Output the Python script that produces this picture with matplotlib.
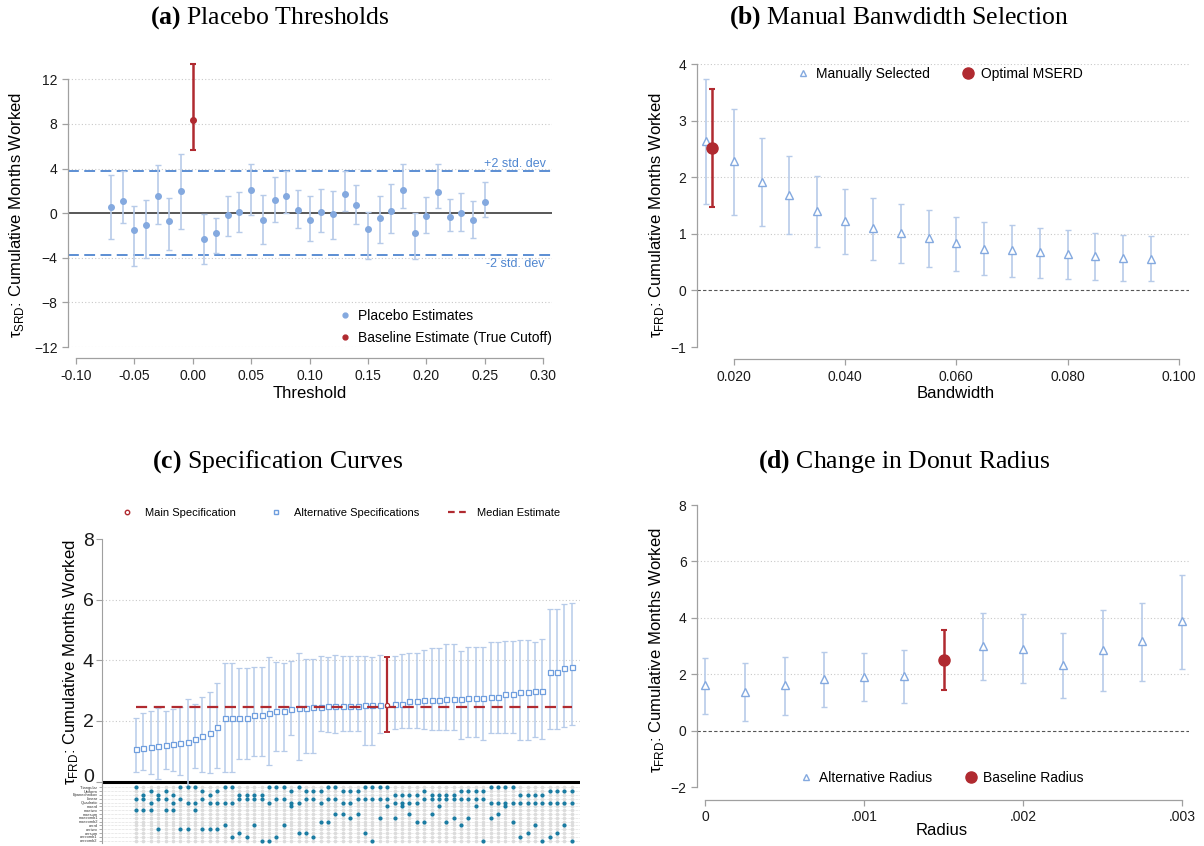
import matplotlib
matplotlib.use('Agg')
import matplotlib.pyplot as plt
from matplotlib import font_manager as fm
from matplotlib.lines import Line2D


def have_font(name):
    try:
        fm.findfont(fm.FontProperties(family=name), fallback_to_default=False)
        return True
    except ValueError:
        return False


SANS = 'Liberation Sans Narrow' if have_font('Liberation Sans Narrow') else 'Liberation Sans'
SERIF = 'Liberation Serif'

plt.rcParams['font.family'] = [SANS, 'DejaVu Sans']
plt.rcParams['mathtext.fontset'] = 'custom'
plt.rcParams['mathtext.rm'] = SANS
plt.rcParams['mathtext.sf'] = SANS
plt.rcParams['mathtext.bf'] = SERIF + ':bold'

# ---------------- data ----------------
# (a) placebo thresholds
placebo_x = [-0.07, -0.06, -0.05, -0.04, -0.03, -0.02, -0.01,
             0.01, 0.02, 0.03, 0.04, 0.05, 0.06, 0.07, 0.08, 0.09, 0.10,
             0.11, 0.12, 0.13, 0.14, 0.15, 0.16, 0.17, 0.18, 0.19, 0.20,
             0.21, 0.22, 0.23, 0.24, 0.25]
placebo_est = [0.51, 1.05, -1.52, -1.05, 1.52, -0.72, 1.97,
               -2.33, -1.82, -0.21, 0.06, 2.09, -0.57, 1.20, 1.52, 0.24, -0.57,
               0.06, -0.09, 1.70, 0.75, -1.43, -0.42, 0.18, 2.06, -1.79, -0.30,
               1.91, -0.36, -0.03, -0.60, 0.96]
placebo_hi = [3.41, 3.80, 0.66, 1.14, 4.36, 1.32, 5.32,
              -0.09, -0.45, 1.58, 1.88, 4.45, 1.67, 3.23, 3.80, 2.12, 1.55,
              2.21, 2.03, 3.74, 2.51, 0.12, 1.52, 2.57, 4.42, -0.03, 1.41,
              4.39, 1.26, 1.82, 1.05, 2.75]
placebo_lo = [-2.33, -0.84, -4.75, -4.01, -0.93, -3.32, -1.41,
              -4.60, -3.53, -2.09, -1.73, -0.21, -2.75, -0.81, 0.03, -1.32, -2.54,
              -1.73, -2.36, 0.18, -0.93, -4.10, -2.69, -1.79, 0.48, -4.07, -1.76,
              0.42, -1.64, -1.61, -2.27, -0.33]
base_x, base_est, base_lo, base_hi = 0.00, 8.34, 5.65, 13.36
std_band = 3.76

# (b) manual bandwidth selection
bw_x = [0.015, 0.020, 0.025, 0.030, 0.035, 0.040, 0.045, 0.050, 0.055,
        0.060, 0.065, 0.070, 0.075, 0.080, 0.085, 0.090, 0.095]
bw_est = [2.64, 2.28, 1.91, 1.68, 1.40, 1.23, 1.10, 1.01, 0.93,
          0.83, 0.74, 0.71, 0.67, 0.64, 0.61, 0.58, 0.56]
bw_hi = [3.73, 3.20, 2.69, 2.38, 2.02, 1.80, 1.64, 1.53, 1.42,
         1.30, 1.20, 1.16, 1.10, 1.06, 1.02, 0.98, 0.96]
bw_lo = [1.52, 1.34, 1.13, 0.99, 0.76, 0.64, 0.54, 0.48, 0.42,
         0.34, 0.27, 0.24, 0.22, 0.20, 0.19, 0.17, 0.16]
opt_x, opt_est, opt_lo, opt_hi = 0.0161, 2.51, 1.47, 3.56

# (c) specification curve (sorted specs, main spec is number 35)
spec_est = [1.07, 1.12, 1.15, 1.16, 1.20, 1.24, 1.27, 1.29, 1.41, 1.51,
            1.59, 1.81, 2.08, 2.08, 2.11, 2.11, 2.18, 2.18, 2.26, 2.34,
            2.34, 2.38, 2.43, 2.44, 2.45, 2.47, 2.48, 2.48, 2.48, 2.48,
            2.48, 2.52, 2.52, 2.53, 2.53, 2.55, 2.57, 2.65, 2.65, 2.68,
            2.69, 2.69, 2.73, 2.73, 2.73, 2.77, 2.77, 2.77, 2.79, 2.79,
            2.89, 2.89, 2.96, 2.96, 2.98, 2.99, 3.62, 3.62, 3.74, 3.79]
spec_hi = [2.11, 2.25, 2.32, 2.42, 2.33, 2.40, 2.46, 2.71, 2.55, 2.80,
           2.97, 3.25, 3.92, 3.92, 3.75, 3.75, 3.78, 3.78, 4.11, 3.93,
           3.91, 3.97, 4.25, 4.03, 4.03, 4.14, 4.10, 4.16, 4.15, 4.15,
           4.15, 4.14, 4.12, 4.19, 4.12, 4.14, 4.21, 4.25, 4.23, 4.34,
           4.41, 4.41, 4.54, 4.54, 4.30, 4.43, 4.43, 4.43, 4.62, 4.62,
           4.65, 4.65, 4.68, 4.68, 4.62, 4.71, 5.70, 5.70, 5.86, 5.90]
spec_lo = [0.33, 0.37, 0.24, 0.07, 0.43, 0.35, 0.23, -0.14, 0.44, 0.33,
           0.27, 0.44, 0.31, 0.31, 0.76, 0.76, 0.85, 0.85, 0.54, 1.02,
           1.02, 1.52, 0.71, 0.95, 0.95, 1.68, 1.63, 1.60, 1.68, 1.68,
           1.68, 1.20, 1.20, 1.60, 1.63, 1.73, 1.76, 1.76, 1.76, 1.73,
           1.70, 1.70, 1.70, 1.70, 1.42, 1.46, 1.46, 1.37, 1.60, 1.60,
           1.59, 1.59, 1.36, 1.36, 1.48, 1.42, 1.74, 1.74, 1.81, 1.87]
main_spec = 35
median_est = 2.47

spec_rows = ['Triangular', 'Uniform', 'Epanechnikov', 'Linear', 'Quadratic',
             'mserd', 'msetwo', 'msesum', 'msecomb1', 'msecomb2',
             'cerrd', 'certwo', 'cersum', 'cercomb1', 'cercomb2']
# kernel: 0 Triangular, 1 Uniform, 2 Epanechnikov
spec_kernel = [0, 2, 1, 2, 1, 2, 0, 0, 0, 1, 2, 1, 0, 0, 2, 2, 2, 2, 0, 0,
               0, 1, 0, 1, 1, 1, 0, 0, 1, 1, 1, 0, 0, 0, 0, 2, 2, 2, 2, 1,
               2, 2, 2, 2, 1, 1, 1, 1, 0, 0, 0, 0, 2, 2, 2, 2, 1, 1, 1, 1]
# polynomial: 0 Linear, 1 Quadratic
spec_poly = [0, 0, 1, 0, 0, 1, 0, 1, 1, 0, 1, 1, 1, 1, 0, 0, 0, 0, 1, 0,
             0, 1, 1, 0, 0, 1, 0, 0, 1, 1, 0, 0, 0, 0, 0, 1, 1, 1, 1, 0,
             0, 0, 0, 0, 0, 0, 0, 0, 1, 1, 1, 1, 1, 1, 1, 1, 1, 1, 1, 1]
# bandwidth selector: index into rows 6..15
spec_bw = [1, 1, 1, 6, 1, 1, 6, 6, 1, 6, 6, 6, 5, 8, 7, 8, 5, 9, 9, 8,
           5, 0, 7, 7, 8, 4, 4, 2, 2, 3, 2, 7, 9, 3, 0, 3, 0, 2, 4, 4,
           2, 0, 4, 3, 5, 3, 0, 9, 3, 2, 0, 4, 8, 7, 5, 9, 8, 7, 5, 9]

# (d) donut radius
rad_x = [0.0, 0.00025, 0.0005, 0.00075, 0.001, 0.00125,
         0.00175, 0.002, 0.00225, 0.0025, 0.00275, 0.003]
rad_est = [1.60, 1.37, 1.61, 1.83, 1.91, 1.94, 3.01, 2.91, 2.32, 2.85, 3.17, 3.87]
rad_hi = [2.58, 2.40, 2.61, 2.79, 2.75, 2.86, 4.18, 4.14, 3.45, 4.29, 4.54, 5.51]
rad_lo = [0.58, 0.33, 0.56, 0.85, 1.04, 0.99, 1.81, 1.68, 1.16, 1.40, 1.77, 2.19]
brad_x, brad_est, brad_lo, brad_hi = 0.0015, 2.51, 1.45, 3.56

# ---------------- style ----------------
CI_BLUE = '#b7cbe9'
PT_BLUE = '#84a9df'
RED = '#b02a30'
SPINE = '#a0a0a0'
GRID = '#c9c9c9'
TEAL = '#1b7ca2'

W, H = 1204, 846
fig = plt.figure(figsize=(W / 100, H / 100), dpi=100)


def fx(px):
    return px / W


def fy(py):
    return 1 - py / H


def add_axes(left, top, right, bottom):
    return fig.add_axes([fx(left), fy(bottom), fx(right - left), (bottom - top) / H])


def style(ax, xb, yb, out):
    for s in ['top', 'right']:
        ax.spines[s].set_visible(False)
    for s in ['left', 'bottom']:
        ax.spines[s].set_color(SPINE)
        ax.spines[s].set_linewidth(0.9)
    ax.spines['left'].set_bounds(*yb)
    ax.spines['bottom'].set_bounds(*xb)
    ax.spines['bottom'].set_position(('outward', out))
    ax.tick_params(colors=SPINE, labelcolor='#1a1a1a', length=4, width=0.9, labelsize=10)
    ax.set_facecolor('none')


def grid(ax, vals, x0, x1):
    ax.hlines(vals, x0, x1, colors=GRID, linestyles=(0, (1, 2)), linewidth=0.8, zorder=0)


def title(x, y, letter, text):
    fig.text(fx(x), fy(y), r'$\mathbf{(' + letter + r')}$ ' + text,
             family=SERIF, fontsize=18.5, ha='center', va='center')


def ylabel(x, y, sub):
    fig.text(fx(x), fy(y), 'τ$_{\\mathsf{' + sub + '}}$: Cumulative Months Worked',
             rotation=90, fontsize=12, ha='center', va='center')


def xlabel(x, y, text):
    fig.text(fx(x), fy(y), text, fontsize=12, ha='center', va='center')


ebk = dict(fmt='none', ecolor=CI_BLUE, elinewidth=1.2, capsize=2.5, capthick=1.0)
ebr = dict(fmt='none', ecolor=RED, elinewidth=1.8, capsize=2.5, capthick=1.5)

# ---------------- (a) ----------------
ax = add_axes(68, 57, 552, 347)
xl = (-0.1069, 0.3077)
ax.set_xlim(*xl)
ax.set_ylim(-12, 14)
style(ax, (-0.10, 0.30), (-12, 12), 8)
grid(ax, [-12, -8, -4, 4, 8, 12], *xl)
ax.axhline(0, color='#4a4a4a', lw=1.3, zorder=1)
ax.axhline(std_band, color='#4f86d0', ls=(0, (6, 3)), lw=1.3, zorder=1)
ax.axhline(-std_band, color='#4f86d0', ls=(0, (6, 3)), lw=1.3, zorder=1)
ax.text(0.276, std_band + 0.15, '+2 std. dev', color='#4f86d0', fontsize=9,
        ha='center', va='bottom')
ax.text(0.276, -std_band - 0.25, '-2 std. dev', color='#4f86d0', fontsize=9,
        ha='center', va='top')
ax.errorbar(placebo_x, placebo_est,
            yerr=[[e - l for e, l in zip(placebo_est, placebo_lo)],
                  [h - e for e, h in zip(placebo_est, placebo_hi)]], **ebk)
ax.plot(placebo_x, placebo_est, 'o', ms=4, color=PT_BLUE, zorder=3)
ax.errorbar([base_x], [base_est], yerr=[[base_est - base_lo], [base_hi - base_est]], **ebr)
ax.plot([base_x], [base_est], 'o', ms=4, color=RED, zorder=3)
ax.set_xticks([-0.10, -0.05, 0.00, 0.05, 0.10, 0.15, 0.20, 0.25, 0.30])
ax.set_xticklabels(['-0.10', '-0.05', '0.00', '0.05', '0.10', '0.15', '0.20', '0.25', '0.30'])
ax.set_yticks([-12, -8, -4, 0, 4, 8, 12])
h1 = Line2D([], [], marker='o', ls='none', ms=3.5, color=PT_BLUE)
h2 = Line2D([], [], marker='o', ls='none', ms=3.5, color=RED)
ax.legend([h1, h2], ['Placebo Estimates', 'Baseline Estimate (True Cutoff)'],
          loc='center left', bbox_to_anchor=(fx(334), fy(327)), bbox_transform=fig.transFigure,
          frameon=False, fontsize=10, handlelength=0.6, handletextpad=0.6, labelspacing=0.55,
          borderpad=0)
title(270, 18, 'a', 'Placebo Thresholds')
ylabel(17, 215, 'SRD')
xlabel(310, 393, 'Threshold')

# ---------------- (b) ----------------
ax = add_axes(697, 64, 1189, 347)
xl = (0.0134, 0.1018)
ax.set_xlim(*xl)
ax.set_ylim(-1, 4)
style(ax, (0.02, 0.10), (-1, 4), 9)
grid(ax, [1, 2, 3, 4], *xl)
ax.axhline(0, color='#555555', ls=(0, (3, 2)), lw=0.8, zorder=1)
ax.errorbar(bw_x, bw_est,
            yerr=[[e - l for e, l in zip(bw_est, bw_lo)],
                  [h - e for e, h in zip(bw_est, bw_hi)]], **ebk)
ax.plot(bw_x, bw_est, '^', ms=6, mfc='white', mec=PT_BLUE, mew=1.0, zorder=3)
ax.errorbar([opt_x], [opt_est], yerr=[[opt_est - opt_lo], [opt_hi - opt_est]], **ebr)
ax.plot([opt_x], [opt_est], 'o', ms=8, color=RED, zorder=4)
ax.set_xticks([0.02, 0.04, 0.06, 0.08, 0.10])
ax.set_xticklabels(['0.020', '0.040', '0.060', '0.080', '0.100'])
ax.set_yticks([-1, 0, 1, 2, 3, 4])
h1 = Line2D([], [], marker='^', ls='none', ms=5, mfc='white', mec=PT_BLUE)
h2 = Line2D([], [], marker='o', ls='none', ms=8, color=RED)
ax.legend([h1, h2], ['Manually Selected', 'Optimal MSERD'], ncol=2,
          loc='center', bbox_to_anchor=(fx(940), fy(74)), bbox_transform=fig.transFigure,
          frameon=False, fontsize=10, handlelength=0.8, handletextpad=0.5, columnspacing=2.4)
title(899, 18, 'b', 'Manual Banwdidth Selection')
ylabel(656, 215, 'FRD')
xlabel(956, 393, 'Bandwidth')

# ---------------- (c) ----------------
n_spec = len(spec_est)
spec_i = list(range(1, n_spec + 1))
xl = (-3.6, 61.1)
ax = add_axes(102, 533, 580, 787)
ax.set_xlim(*xl)
ax.set_ylim(-0.18, 8.2)
for s in ['top', 'right', 'bottom']:
    ax.spines[s].set_visible(False)
ax.spines['left'].set_color(SPINE)
ax.spines['left'].set_bounds(-0.18, 8)
ax.tick_params(axis='y', colors=SPINE, labelcolor='#1a1a1a', length=4, labelsize=14, pad=2)
ax.set_xticks([])
ax.set_facecolor('none')
ax.set_yticks([0, 2, 4, 6, 8])
ax.get_yticklabels()[0].set_va('baseline')
grid(ax, [2, 4, 6], *xl)
ax.axhline(0, color='black', lw=2.2, zorder=2)
alt = [i for i in spec_i if i != main_spec]
ax.errorbar(alt, [spec_est[i - 1] for i in alt],
            yerr=[[spec_est[i - 1] - spec_lo[i - 1] for i in alt],
                  [spec_hi[i - 1] - spec_est[i - 1] for i in alt]],
            fmt='none', ecolor=CI_BLUE, elinewidth=1.1, capsize=2.2, capthick=0.9)
ax.plot(alt, [spec_est[i - 1] for i in alt], 's', ms=3.6, mfc='white', mec='#6f9ede',
        mew=0.9, zorder=3)
m = main_spec - 1
ax.errorbar([main_spec], [spec_est[m]], yerr=[[spec_est[m] - spec_lo[m]], [spec_hi[m] - spec_est[m]]],
            fmt='none', ecolor=RED, elinewidth=1.6, capsize=2.5, capthick=1.4, zorder=4)
ax.plot([main_spec], [spec_est[m]], 'o', ms=3, mfc='white', mec=RED, mew=0.9, zorder=5)
ax.plot([1, n_spec], [median_est, median_est], color=RED, ls=(0, (5, 3)), lw=1.6, zorder=4)
h1 = Line2D([], [], marker='o', ls='none', ms=3.2, mfc='white', mec=RED)
h2 = Line2D([], [], marker='s', ls='none', ms=3.2, mfc='white', mec='#6f9ede')
h3 = Line2D([], [], color=RED, ls=(0, (3, 2)), lw=1.6)
ax.legend([h1, h2, h3], ['Main Specification', 'Alternative Specifications', 'Median Estimate'],
          ncol=3, loc='center', bbox_to_anchor=(fx(338), fy(513)), bbox_transform=fig.transFigure,
          frameon=False, fontsize=8, handlelength=2.0, handletextpad=0.6, columnspacing=2.6)

axm = add_axes(102, 785.4, 580, 842.6)
axm.set_xlim(*xl)
axm.set_ylim(len(spec_rows) + 0.5, 0.5)
for s in ['top', 'right', 'bottom']:
    axm.spines[s].set_visible(False)
axm.spines['left'].set_color(SPINE)
axm.set_facecolor('none')
axm.set_xticks([])
row_pos = list(range(1, len(spec_rows) + 1))
axm.set_yticks(row_pos)
axm.set_yticklabels(spec_rows)
axm.tick_params(axis='y', colors=SPINE, labelcolor='#333333', length=2, width=0.6,
                labelsize=2.9, pad=1)
axm.hlines(row_pos, xl[0], xl[1], colors='#bdbdbd', linestyles=(0, (1, 1.5)), lw=0.4, zorder=0)
for r in row_pos:
    axm.scatter(spec_i, [r] * n_spec, s=7, color='#dcdcdc', lw=0, zorder=1)
act_x, act_y = [], []
for i in spec_i:
    act_x += [i, i, i]
    act_y += [1 + spec_kernel[i - 1], 4 + spec_poly[i - 1], 6 + spec_bw[i - 1]]
axm.scatter(act_x, act_y, s=9, color=TEAL, lw=0, zorder=2)

title(278, 462, 'c', 'Specification Curves')
ylabel(71, 662, 'FRD')

# ---------------- (d) ----------------
ax = add_axes(697, 505, 1189, 787)
xl = (-0.0000505, 0.003044)
ax.set_xlim(*xl)
ax.set_ylim(-2, 8)
style(ax, (0, 0.003), (-2, 8), 9)
grid(ax, [2, 4, 6], *xl)
ax.axhline(0, color='#555555', ls=(0, (3, 2)), lw=0.8, zorder=1)
ax.errorbar(rad_x, rad_est,
            yerr=[[e - l for e, l in zip(rad_est, rad_lo)],
                  [h - e for e, h in zip(rad_est, rad_hi)]], **ebk)
ax.plot(rad_x, rad_est, '^', ms=6, mfc='white', mec=PT_BLUE, mew=1.0, zorder=3)
ax.errorbar([brad_x], [brad_est], yerr=[[brad_est - brad_lo], [brad_hi - brad_est]], **ebr)
ax.plot([brad_x], [brad_est], 'o', ms=8, color=RED, zorder=4)
ax.set_xticks([0, 0.001, 0.002, 0.003])
ax.set_xticklabels(['0', '.001', '.002', '.003'])
ax.set_yticks([-2, 0, 2, 4, 6, 8])
h1 = Line2D([], [], marker='^', ls='none', ms=5, mfc='white', mec=PT_BLUE)
h2 = Line2D([], [], marker='o', ls='none', ms=8, color=RED)
ax.legend([h1, h2], ['Alternative Radius', 'Baseline Radius'], ncol=2,
          loc='center', bbox_to_anchor=(fx(942), fy(778)), bbox_transform=fig.transFigure,
          frameon=False, fontsize=10, handlelength=0.8, handletextpad=0.5, columnspacing=2.4)
title(904, 462, 'd', 'Change in Donut Radius')
ylabel(656, 650, 'FRD')
xlabel(942, 830, 'Radius')

fig.savefig('out.png', dpi=100)
